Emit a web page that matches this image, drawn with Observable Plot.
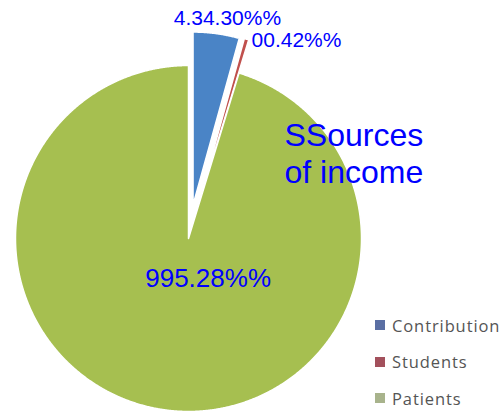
<!DOCTYPE html>
<html>
<head>
<meta charset="utf-8">
<script src="https://cdn.jsdelivr.net/npm/d3@7"></script>
<script src="https://cdn.jsdelivr.net/npm/@observablehq/plot@0.6"></script>
<style>
  html, body { margin: 0; padding: 0; background: #fff; overflow: hidden; }
  #wrap { position: relative; width: 503px; height: 415px; overflow: hidden; }
  #legend { position: absolute; left: 375px; top: 307px; font-family: "Open Sans", sans-serif; font-size: 16.5px; letter-spacing: 0.9px; color: #555; white-space: nowrap; }
  #legend .row { display: flex; align-items: center; height: 36.5px; }
  #legend .sw { width: 10px; height: 10px; margin-right: 7px; flex: none; }
</style>
</head>
<body>
<div id="wrap"></div>
<script>
// ---- data ----
const categories = ["Contribution", "Students", "Patients"];
const shares = [4.30, 0.42, 95.28];
const labels = ["4.34.30%%", "00.42%%", "995.28%%"];
const titleText = "SSources\nof income";

// ---- styling / layout (not data) ----
const colors = ["#4a84c6", "#c0504d", "#a6bf50"];
const legendColors = ["#5a6fa3", "#a3505c", "#a8b38c"];
const explode = [0.195, 0.2, 0];
const labelLayout = [
  {r: 1.09, dx: 9, dy: 0, anchor: "middle", size: 21},
  {r: 1.0, dx: 5, dy: 1, anchor: "start", size: 21},
  {r: 0.25, dx: 26, dy: -3, anchor: "middle", size: 26}
];
const R = 1;
const cx = 188, cy = 238, pxPerUnit = 173, W = 503, H = 415;

const pie = d3.pie().sort(null).value(d => d)(shares);

const slicePoints = pie.flatMap((p, i) => {
  const mid = (p.startAngle + p.endAngle) / 2;
  const ox = explode[i] * Math.sin(mid), oy = explode[i] * Math.cos(mid);
  const n = Math.max(4, Math.ceil((p.endAngle - p.startAngle) / 0.005));
  const pts = [{category: categories[i], x: ox, y: oy}];
  for (let k = 0; k <= n; k++) {
    const a = p.startAngle + (p.endAngle - p.startAngle) * k / n;
    pts.push({category: categories[i], x: ox + R * Math.sin(a), y: oy + R * Math.cos(a)});
  }
  pts.push({category: categories[i], x: ox, y: oy});
  return pts;
});

const labelRows = pie.map((p, i) => {
  const mid = (p.startAngle + p.endAngle) / 2;
  const L = labelLayout[i];
  const ox = explode[i] * Math.sin(mid), oy = explode[i] * Math.cos(mid);
  return {text: labels[i], x: ox + L.r * Math.sin(mid), y: oy + L.r * Math.cos(mid), ...L};
});

const textMarks = labelRows.map(d =>
  Plot.text([d], {x: "x", y: "y", text: "text", textAnchor: d.anchor, dx: d.dx, dy: d.dy,
    fontSize: d.size, fill: "#0000ff"})
);

const chart = Plot.plot({
  width: W, height: H,
  margin: 0,
  x: {domain: [-cx / pxPerUnit, (W - cx) / pxPerUnit], axis: null},
  y: {domain: [-(H - cy) / pxPerUnit, cy / pxPerUnit], axis: null},
  color: {domain: categories, range: colors},
  style: {fontFamily: "'Liberation Sans', Arial, sans-serif", background: "transparent", overflow: "visible"},
  marks: [
    Plot.line(slicePoints, {x: "x", y: "y", z: "category", fill: "category", stroke: "white", strokeWidth: 1.5, strokeLinejoin: "round"}),
    ...textMarks,
    Plot.text([titleText], {frameAnchor: "top-left", dx: 284, dy: 119, text: d => d, textAnchor: "start",
      lineAnchor: "top", lineHeight: 1.16, fontSize: 32, fill: "#0000ff"})
  ]
});

const wrap = document.getElementById("wrap");
wrap.appendChild(chart);

// legend from the plot's color scale
const colorScale = chart.scale("color");
const legend = document.createElement("div");
legend.id = "legend";
colorScale.domain.forEach((c, i) => {
  const row = document.createElement("div");
  row.className = "row";
  const sw = document.createElement("span");
  sw.className = "sw";
  sw.style.background = legendColors[i];
  const t = document.createElement("span");
  t.textContent = c;
  row.appendChild(sw); row.appendChild(t);
  legend.appendChild(row);
});
wrap.appendChild(legend);
</script>
</body>
</html>
